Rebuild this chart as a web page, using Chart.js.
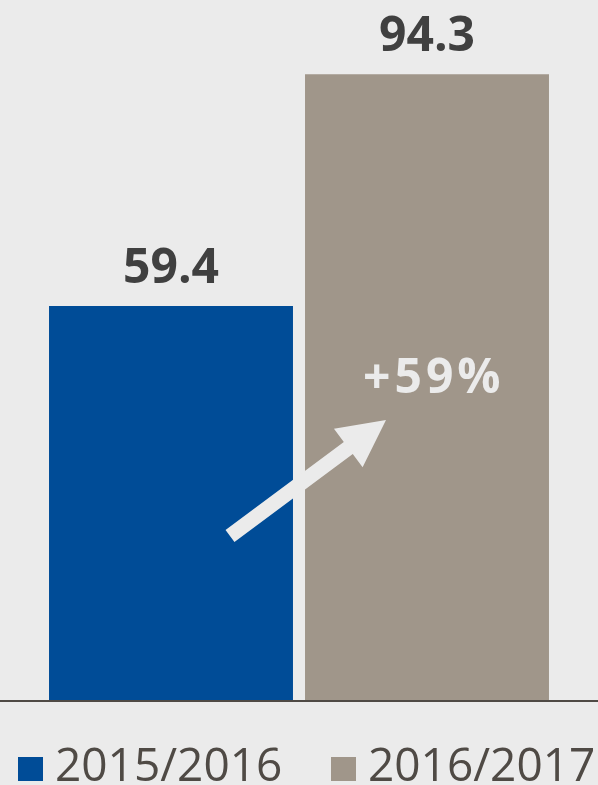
<!DOCTYPE html>
<html>
<head>
<meta charset="utf-8">
<script src="https://cdn.jsdelivr.net/npm/chart.js@4/dist/chart.umd.min.js"></script>
<style>
  html, body { margin: 0; padding: 0; background: #ebebeb; }
  canvas { display: block; }
</style>
</head>
<body>
<canvas id="chart" width="598" height="785"></canvas>
<script>
// season labels and values
const seasons = ['2015/2016', '2016/2017']
const values = [59.4, 94.3]
const barColors = ['#004c97', '#a0968a']

const BG = '#ebebeb'
const INK = '#404040'
const LEGEND_INK = '#4f4a45'
const FONT = '"Open Sans", "Noto Sans", sans-serif'

// labels above bars, baseline, growth arrow, legend
const decorPlugin = {
  id: 'decor',
  afterDatasetsDraw(chart) {
    const ctx = chart.ctx
    const meta = chart.getDatasetMeta(0)
    const yScale = chart.scales.y
    const base = yScale.getPixelForValue(0)

    ctx.save()

    // value labels
    ctx.fillStyle = INK
    ctx.font = `bold 48px ${FONT}`
    ctx.textAlign = 'center'
    ctx.textBaseline = 'alphabetic'
    meta.data.forEach((bar, i) => {
      ctx.fillText(values[i].toFixed(1), bar.x, bar.y - 23)
    })

    // baseline across the full width
    ctx.strokeStyle = LEGEND_INK
    ctx.lineWidth = 2
    ctx.beginPath()
    ctx.moveTo(0, base + 1)
    ctx.lineTo(chart.width, base + 1)
    ctx.stroke()

    // growth arrow
    const b0 = meta.data[0]
    const b1 = meta.data[1]
    const tail = { x: b0.x + 59, y: base - 164 }
    const tip = { x: b1.x - 41, y: base - 280 }
    const dx = tip.x - tail.x
    const dy = tip.y - tail.y
    const len = Math.hypot(dx, dy)
    const ux = dx / len
    const uy = dy / len
    const nx = -uy
    const ny = ux
    const shaftHalf = 7.5
    const headLen = 47
    const headHalf = 24
    const hb = { x: tip.x - ux * headLen, y: tip.y - uy * headLen }
    ctx.fillStyle = BG
    ctx.beginPath()
    ctx.moveTo(tail.x + nx * shaftHalf, tail.y + ny * shaftHalf)
    ctx.lineTo(hb.x + nx * shaftHalf, hb.y + ny * shaftHalf)
    ctx.lineTo(hb.x + nx * headHalf, hb.y + ny * headHalf)
    ctx.lineTo(tip.x, tip.y)
    ctx.lineTo(hb.x - nx * headHalf, hb.y - ny * headHalf)
    ctx.lineTo(hb.x - nx * shaftHalf, hb.y - ny * shaftHalf)
    ctx.lineTo(tail.x - nx * shaftHalf, tail.y - ny * shaftHalf)
    ctx.closePath()
    ctx.fill()

    // growth text
    const growth = Math.round((values[1] / values[0] - 1) * 100)
    ctx.fillStyle = BG
    ctx.font = `bold 48px ${FONT}`
    ctx.textAlign = 'left'
    ctx.letterSpacing = '4px'
    ctx.fillText(`+${growth}%`, b1.x - 64, base - 307)
    ctx.letterSpacing = '0px'

    // legend
    ctx.font = `46px ${FONT}`
    ctx.textAlign = 'left'
    const legendX = [18, 331]
    seasons.forEach((s, i) => {
      ctx.fillStyle = barColors[i]
      ctx.fillRect(legendX[i], 757, 25, 24)
      ctx.fillStyle = LEGEND_INK
      ctx.fillText(s, legendX[i] + 37, 781)
    })

    ctx.restore()
  },
}

new Chart(document.getElementById('chart'), {
  type: 'bar',
  data: {
    labels: seasons,
    datasets: [{
      data: values,
      backgroundColor: barColors,
      borderWidth: 0,
      barPercentage: 0.953,
      categoryPercentage: 1,
    }],
  },
  options: {
    responsive: false,
    animation: false,
    layout: { padding: { left: 43, right: 43, top: 0, bottom: 85 } },
    scales: {
      x: { display: false },
      y: { display: false, min: 0, max: 105.5 },
    },
    plugins: {
      legend: { display: false },
      tooltip: { enabled: false },
    },
  },
  plugins: [decorPlugin],
})
</script>
</body>
</html>
